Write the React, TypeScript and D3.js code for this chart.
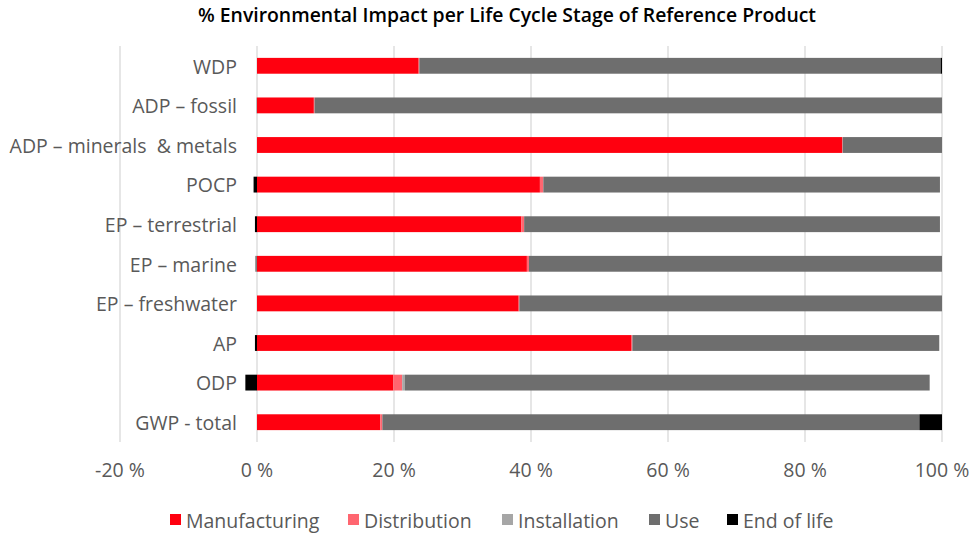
import React from 'react'
import { scaleLinear, scaleBand, stack, stackOffsetDiverging } from 'd3'

const categories = ['WDP', 'ADP – fossil', 'ADP – minerals  & metals', 'POCP', 'EP – terrestrial', 'EP – marine', 'EP – freshwater', 'AP', 'ODP', 'GWP - total']
const manufacturing = [23.6, 8.3, 85.4, 41.3, 38.6, 39.4, 38.2, 54.6, 19.9, 18.0]
const distribution = [0.1, 0.1, 0.1, 0.5, 0.4, 0.3, 0.1, 0.2, 1.3, 0.3]
const installation = [0.0, -0.1, 0.0, 0.0, 0.0, -0.1, 0.0, 0.0, 0.4, 0.0]
const use = [76.1, 91.6, 14.5, 57.9, 60.7, 60.3, 61.7, 44.8, 76.6, 78.4]
const endOfLife = [0.2, 0.0, 0.0, -0.5, -0.3, -0.1, 0.0, -0.3, -1.7, 3.3]
const seriesNames = ['Manufacturing', 'Distribution', 'Installation', 'Use', 'End of life']
const colors = ['#FF000F', '#FF6670', '#A6A6A6', '#6E6E6E', '#000000']
const ticks = [-20, 0, 20, 40, 60, 80, 100]

const width = 972
const height = 533
const font = '"Open Sans", sans-serif'

const App = () => {
  const left = 120
  const right = 942
  const top = 46
  const bottom = 442

  const xscale = scaleLinear().domain([-20, 100]).range([left, right])
  const yscale = scaleBand().domain(categories).range([top, bottom]).paddingInner(0.6).paddingOuter(0.3)

  const rows = categories.map((c, i) => ({
    cat: c,
    Manufacturing: manufacturing[i],
    Distribution: distribution[i],
    Installation: installation[i],
    Use: use[i],
    'End of life': endOfLife[i],
  }))
  const series = stack<any>().keys(seriesNames).offset(stackOffsetDiverging)(rows)

  const gridLines = ticks.map(t => (
    <g key={t}>
      <line x1={xscale(t)} x2={xscale(t)} y1={top} y2={bottom} stroke='#D9D9D9' strokeWidth={1.3} />
      <text x={xscale(t)} y={477} textAnchor='middle' fontSize={19.5} fill='#595959' fontFamily={font}>{t} %</text>
    </g>
  ))

  const bars = series.map((s, si) => (
    <g key={s.key} fill={colors[si]}>
      {s.map((d, i) => {
        const x0 = xscale(Math.min(d[0], d[1]))
        const x1 = xscale(Math.max(d[0], d[1]))
        if (x1 - x0 <= 0) return null
        return <rect key={i} x={x0} y={yscale(categories[i])} width={x1 - x0} height={yscale.bandwidth()} />
      })}
    </g>
  ))

  const labels = categories.map(c => (
    <text key={c} x={237} y={(yscale(c) || 0) + yscale.bandwidth() / 2 + 1} dy='0.35em' textAnchor='end' fontSize={19.5} fill='#595959' fontFamily={font} style={{ whiteSpace: 'pre' }}>{c}</text>
  ))

  const legendX = [170, 348, 502, 649, 727]
  const legend = seriesNames.map((n, i) => (
    <g key={n} transform={`translate(${legendX[i]},0)`}>
      <rect x={0} y={514} width={11} height={11} fill={colors[i]} />
      <text x={16} y={528} fontSize={19.5} fill='#595959' fontFamily={font}>{n}</text>
    </g>
  ))

  return (
    <svg width={width} height={height} style={{ position: 'absolute', left: 0, top: 0 }}>
      <rect width={width} height={height} fill='#fff' />
      <text x={507} y={22} textAnchor='middle' fontSize={19.4} fontWeight={600} fill='#000' fontFamily={font}>% Environmental Impact per Life Cycle Stage of Reference Product</text>
      {gridLines}
      {bars}
      {labels}
      {legend}
    </svg>
  )
}

export default App
